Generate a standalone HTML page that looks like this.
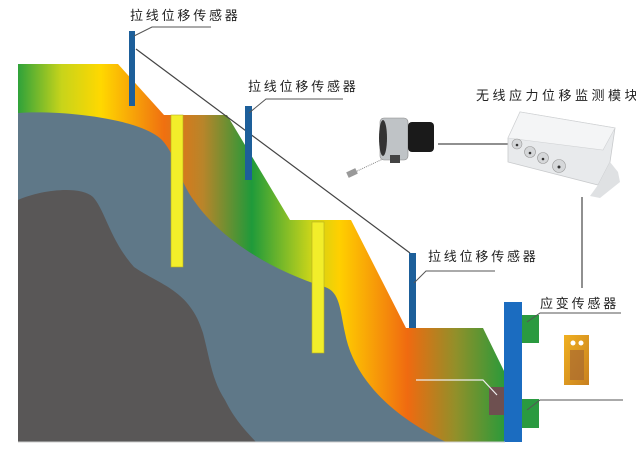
<!DOCTYPE html>
<html><head><meta charset="utf-8"><style>
html,body{margin:0;padding:0;background:#fff;width:636px;height:454px;overflow:hidden}
text{font-family:"Liberation Sans","Noto Sans CJK SC",sans-serif;font-size:13px;fill:#222;letter-spacing:2.8px}
</style></head><body>
<svg width="636" height="454" viewBox="0 0 636 454" xmlns="http://www.w3.org/2000/svg">
<defs>
<linearGradient id="g" x1="18" y1="0" x2="505" y2="0" gradientUnits="userSpaceOnUse">
<stop offset="0" stop-color="#2fa23a"/>
<stop offset="0.09" stop-color="#c8d41a"/>
<stop offset="0.17" stop-color="#ffd800"/>
<stop offset="0.3" stop-color="#f07010"/>
<stop offset="0.38" stop-color="#b8852a"/>
<stop offset="0.48" stop-color="#1f9a3a"/>
<stop offset="0.6" stop-color="#c8d41a"/>
<stop offset="0.66" stop-color="#ffd000"/>
<stop offset="0.8" stop-color="#f06a10"/>
<stop offset="0.9" stop-color="#90902a"/>
<stop offset="1" stop-color="#2a9a3a"/>
</linearGradient>
<linearGradient id="sg" x1="0" y1="0" x2="1" y2="1">
<stop offset="0" stop-color="#f0b020"/><stop offset="1" stop-color="#c88020"/>
</linearGradient>
</defs>
<polygon points="18,64 118,64 164,115 227,115 290,220 351,220 406,328 483,328 505,373 505,442 18,442" fill="url(#g)"/>
<path d="M18,113 C60,110 140,118 162,140 C178,158 178,180 195,202 C220,238 270,270 325,287 C340,292 340,310 345,333 C352,370 380,410 446,442 L18,442 Z" fill="#5f7888"/>
<path d="M18,200 C40,190 80,185 93,197 C105,210 110,240 134,267 C160,285 190,290 203,333 C210,360 212,380 225,400 C235,420 245,430 256,442 L18,442 Z" fill="#595757"/>
<rect x="171" y="115" width="12" height="152" fill="#f2ee2a" stroke="#b8b020" stroke-width="0.6"/>
<rect x="312" y="222" width="12" height="131" fill="#f2ee2a" stroke="#b8b020" stroke-width="0.6"/>
<line x1="136" y1="49" x2="410" y2="253" stroke="#444" stroke-width="1.2"/>
<rect x="129" y="31" width="6" height="75" fill="#1d5f9a"/>
<rect x="245" y="106" width="7" height="74" fill="#1d5f9a"/>
<rect x="409" y="253" width="7" height="75" fill="#1d5f9a"/>
<rect x="489" y="387" width="15" height="28" fill="#6e5050"/>
<polyline points="416,380 483,380 497,395" fill="none" stroke="#eee" stroke-width="1.2"/>
<rect x="522" y="315" width="17" height="28" fill="#2a9a40"/>
<rect x="522" y="399" width="17" height="29" fill="#2a9a40"/>
<rect x="504" y="302" width="18" height="140" fill="#1b6cc0"/>
<g fill="none" stroke="#555" stroke-width="1">
<polyline points="134,36 152,27 211,27"/>
<polyline points="249,113 266,99 343,99"/>
<polyline points="414,283 426,271 495,271"/>
<polyline points="527,322 540,313 621,313"/>
<polyline points="527,410 540,400 623,400"/>
<line x1="582" y1="197" x2="582" y2="288" stroke="#222"/>
<line x1="438" y1="144" x2="511" y2="144" stroke="#222"/>
<line x1="355" y1="172" x2="385" y2="158" stroke="#888" stroke-dasharray="1,1"/>
</g>
<line x1="18" y1="442" x2="505" y2="442" stroke="#ccc" stroke-width="1"/>
<text x="130" y="20">拉线位移传感器</text>
<text x="248" y="91">拉线位移传感器</text>
<text x="428" y="261">拉线位移传感器</text>
<text x="540" y="308">应变传感器</text>
<text x="476" y="100" style="letter-spacing:3.5px">无线应力位移监测模块</text>
<!-- wire sensor -->
<rect x="380" y="118" width="28" height="42" rx="4" fill="#bfc3c6" stroke="#888" stroke-width="0.6"/>
<ellipse cx="383" cy="138" rx="4" ry="18" fill="#333"/>
<rect x="408" y="122" width="26" height="30" rx="4" fill="#1a1a1a"/>
<rect x="390" y="155" width="10" height="8" fill="#444"/>
<rect x="347" y="170" width="10" height="6" fill="#999" transform="rotate(-25 352 173)"/>
<!-- module box -->
<path d="M508,138 L520,112 L615,128 L610,162 L598,185 L508,162 Z" fill="#e8eaec" stroke="#c8cacc" stroke-width="0.8"/>
<path d="M520,112 L615,128 L603,150 L508,138 Z" fill="#f4f5f6" stroke="#d0d2d4" stroke-width="0.6"/>
<path d="M598,185 L610,162 L618,172 L620,182 L600,198 L590,196 Z" fill="#dfe1e3"/>
<g fill="#d5d7d9" stroke="#999" stroke-width="0.6">
<circle cx="517" cy="144" r="5"/><circle cx="530" cy="152" r="5.5"/><circle cx="543" cy="158" r="5.5"/><circle cx="559" cy="166" r="6.5"/>
</g>
<g fill="#333"><circle cx="517" cy="145" r="1.3"/><circle cx="530" cy="153" r="1.3"/><circle cx="543" cy="159" r="1.3"/><circle cx="559" cy="167" r="1.5"/></g>
<!-- strain gauge -->
<rect x="564" y="335" width="25" height="50" fill="url(#sg)"/>
<rect x="570" y="350" width="14" height="30" fill="#a86a30" opacity="0.7"/>
<circle cx="573" cy="343" r="2.5" fill="#fff"/><circle cx="581" cy="343" r="2.5" fill="#fff"/>
</svg>
</body></html>
